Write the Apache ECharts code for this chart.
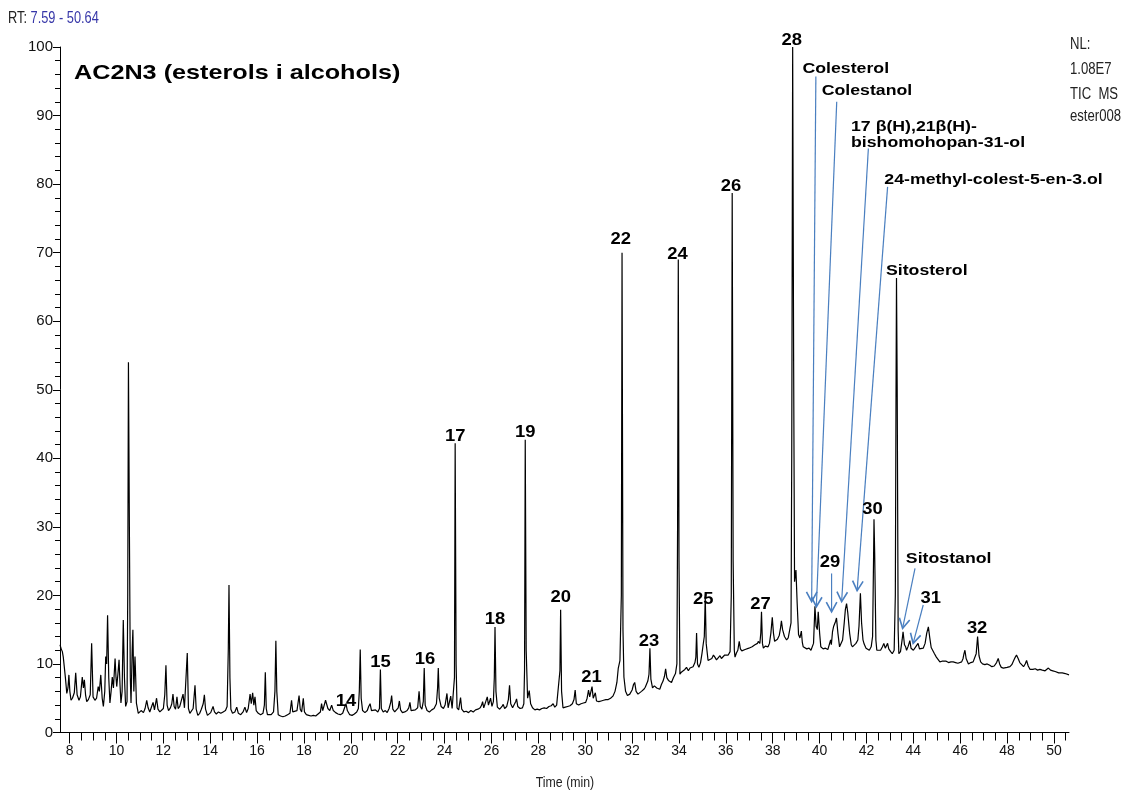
<!DOCTYPE html>
<html><head><meta charset="utf-8">
<script src="https://cdn.jsdelivr.net/npm/echarts@6/dist/echarts.min.js"></script>
<style>html,body{margin:0;padding:0;background:#fff}#c{width:1124px;height:792px}</style>
</head><body><div id="c"></div>
<script>
// ---- axis ranges and tick labels ----
const rtRange = [7.59, 50.64];
const xTickLabels = [8,10,12,14,16,18,20,22,24,26,28,30,32,34,36,38,40,42,44,46,48,50];
const yTickLabels = [0,10,20,30,40,50,60,70,80,90,100];

// ---- TIC trace (retention time [min], relative abundance [%]) ----
const trace08to11 = [[7.59,12.8],[7.64,12.2],[7.69,11.8],[7.73,11.0],[7.77,11.1],[7.82,8.0],[7.88,5.7],[7.93,6.5],[7.97,8.4],[8.01,6.0],[8.06,4.7],[8.12,5.0],[8.2,5.8],[8.26,8.7],[8.32,5.5],[8.4,4.7],[8.46,5.2],[8.54,8.1],[8.59,6.5],[8.63,7.7],[8.68,5.5],[8.73,4.5],[8.8,4.8],[8.88,5.5],[8.94,13.0],[9.0,5.2],[9.08,4.7],[9.15,5.0],[9.22,6.7],[9.27,6.0],[9.33,8.4],[9.39,5.0],[9.44,3.8],[9.5,6.0],[9.54,11.1],[9.58,10.0],[9.62,17.1],[9.67,8.0],[9.72,4.3],[9.77,6.0],[9.82,8.1],[9.87,6.5],[9.94,10.8],[9.98,8.0],[10.01,6.7],[10.06,8.5],[10.11,10.6],[10.15,7.0],[10.19,4.3],[10.24,6.0],[10.29,16.4],[10.34,8.0],[10.39,3.8],[10.45,4.5],[10.48,20],[10.51,54.0],[10.55,30],[10.59,8.0],[10.62,4.3],[10.67,12.0],[10.70,15.0],[10.74,6.0],[10.79,11.1],[10.82,8.0],[10.85,4.3],[10.93,2.8],[11.0,3.0]];
const trace11to19 = [[11.05,3.2],[11.15,2.9],[11.22,3.5],[11.29,4.7],[11.35,3.6],[11.42,3.0],[11.5,3.8],[11.56,4.4],[11.62,3.3],[11.71,5.0],[11.77,3.4],[11.85,3.0],[11.92,3.2],[12.0,3.5],[12.06,5.5],[12.11,9.8],[12.16,4.0],[12.22,3.2],[12.3,3.6],[12.36,4.2],[12.41,5.6],[12.46,3.8],[12.52,3.4],[12.58,5.2],[12.63,3.5],[12.7,3.8],[12.78,4.0],[12.84,5.6],[12.9,3.6],[12.96,3.8],[13.02,11.6],[13.07,3.5],[13.13,2.8],[13.2,3.0],[13.27,3.5],[13.35,6.9],[13.4,3.4],[13.47,2.5],[13.55,2.8],[13.62,3.4],[13.7,4.2],[13.75,5.5],[13.8,3.4],[13.88,2.5],[13.95,2.6],[14.02,2.9],[14.08,3.0],[14.12,3.8],[14.18,3.0],[14.26,2.7],[14.35,3.0],[14.45,2.8],[14.55,3.0],[14.65,3.2],[14.72,3.8],[14.77,12],[14.8,21.5],[14.84,8],[14.88,3.4],[14.95,2.8],[15.05,3.0],[15.13,3.7],[15.2,2.8],[15.3,2.6],[15.4,3.0],[15.48,3.7],[15.55,2.9],[15.62,3.5],[15.7,5.6],[15.75,4.2],[15.81,5.8],[15.86,4.0],[15.91,5.2],[15.96,3.2],[16.05,2.8],[16.15,2.6],[16.25,2.8],[16.31,4.0],[16.35,8.8],[16.39,3.5],[16.44,2.6],[16.52,2.4],[16.6,2.6],[16.7,3.0],[16.76,6.0],[16.8,13.4],[16.84,6.0],[16.9,2.6],[17.0,2.4],[17.1,2.3],[17.2,2.4],[17.3,2.6],[17.4,2.8],[17.47,4.7],[17.52,3.0],[17.6,2.8],[17.7,3.2],[17.79,5.4],[17.84,3.4],[17.9,3.0],[17.97,5.0],[18.02,3.0],[18.1,2.6],[18.2,2.5],[18.3,2.4],[18.4,2.5],[18.5,2.4],[18.6,2.7],[18.7,3.0],[18.75,4.2],[18.8,3.2],[18.87,3.0],[18.92,4.7],[18.97,4.9],[19.02,3.5],[19.1,3.2],[19.18,4.0],[19.25,3.2],[19.35,2.9],[19.45,2.7]];
const trace19to32 = [[19.55,2.6],[19.65,2.8],[19.72,3.5],[19.79,4.2],[19.85,3.2],[19.95,2.6],[20.05,2.5],[20.15,2.7],[20.25,3.0],[20.32,3.5],[20.36,6],[20.4,12.1],[20.44,5],[20.5,3.2],[20.6,2.9],[20.7,3.2],[20.76,3.8],[20.82,4.2],[20.88,3.2],[20.95,3.0],[21.05,3.3],[21.15,3.0],[21.22,3.5],[21.26,9.2],[21.3,3.5],[21.38,3.0],[21.47,3.2],[21.55,2.9],[21.63,3.5],[21.7,4.4],[21.74,5.4],[21.79,3.4],[21.87,3.0],[21.95,3.2],[22.02,3.6],[22.07,4.6],[22.12,3.3],[22.2,2.9],[22.3,3.0],[22.4,3.2],[22.47,3.6],[22.52,4.4],[22.57,3.2],[22.65,3.0],[22.75,3.3],[22.85,3.6],[22.91,6.0],[22.96,3.8],[23.03,3.4],[23.09,4.5],[23.13,9.4],[23.17,4.0],[23.25,3.2],[23.35,3.0],[23.45,3.3],[23.55,3.5],[23.65,4.2],[23.7,6.5],[23.73,9.4],[23.77,5.0],[23.85,3.8],[23.95,3.5],[24.02,4.0],[24.1,5.7],[24.15,3.6],[24.22,3.8],[24.26,5.3],[24.32,3.5],[24.38,3.5],[24.42,8],[24.45,42.2],[24.49,10],[24.53,3.6],[24.6,3.3],[24.68,5.1],[24.73,3.4],[24.82,3.0],[24.92,3.1],[25.02,2.9],[25.12,3.2],[25.22,3.0],[25.32,3.3],[25.42,3.4],[25.52,3.6],[25.58,4.0],[25.62,4.5],[25.67,3.6],[25.74,3.8],[25.82,5.2],[25.87,4.0],[25.92,4.2],[25.96,5.0],[26.02,3.8],[26.08,4.5],[26.12,8],[26.15,15.4],[26.19,6],[26.25,3.7],[26.35,3.4],[26.45,3.8],[26.5,4.1],[26.56,3.5],[26.65,3.8],[26.72,4.8],[26.77,6.9],[26.82,4.2],[26.9,3.6],[26.98,3.7],[27.03,4.5],[27.07,4.9],[27.12,3.8],[27.22,3.5],[27.32,3.6],[27.38,4.2],[27.41,9],[27.44,42.7],[27.48,12],[27.54,5.0],[27.61,6.1],[27.67,4.2],[27.75,3.6],[27.85,3.3],[27.95,3.4],[28.05,3.3],[28.15,3.5],[28.25,3.6],[28.35,3.5],[28.45,3.8],[28.55,3.9],[28.63,4.2],[28.7,3.7],[28.78,4.0],[28.86,4.2],[28.92,9],[28.95,17.9],[28.99,6],[29.05,3.6],[29.15,3.7],[29.25,3.8],[29.35,3.9],[29.45,4.2],[29.52,4.8],[29.57,6.2],[29.62,4.2],[29.72,4.0],[29.82,4.2],[29.92,4.3],[30.02,4.4],[30.08,5.0],[30.14,6.2],[30.19,5.2],[30.24,5.0],[30.29,6.7],[30.34,5.0],[30.39,5.2],[30.43,5.8],[30.48,4.6],[30.58,4.5],[30.68,4.6],[30.78,4.7],[30.88,4.8],[30.98,4.8],[31.08,5.0],[31.18,5.3],[31.27,6.0],[31.35,7.3],[31.41,9.4],[31.48,10.5],[31.54,20],[31.57,70.0],[31.61,15],[31.65,8.1],[31.72,6.0]];
const trace32to39 = [[31.8,5.4],[31.9,5.6],[32.0,6.2],[32.06,7.0],[32.11,7.3],[32.17,6.0],[32.25,5.6],[32.33,5.5],[32.4,6.0],[32.5,6.3],[32.56,6.6],[32.61,6.8],[32.67,7.5],[32.72,8.5],[32.76,12.3],[32.8,7.8],[32.87,6.5],[32.95,6.8],[33.05,6.5],[33.12,6.4],[33.18,6.3],[33.25,7.0],[33.32,7.5],[33.38,8.2],[33.43,9.3],[33.48,8.0],[33.55,7.6],[33.62,7.8],[33.68,7.3],[33.76,8.0],[33.85,8.6],[33.91,10],[33.94,30],[33.97,69.0],[34.0,25],[34.04,8.5],[34.1,8.8],[34.18,9.0],[34.25,9.2],[34.32,9.5],[34.4,9.0],[34.47,9.4],[34.53,9.3],[34.6,9.6],[34.68,10.2],[34.72,11],[34.75,14.5],[34.79,10.0],[34.85,9.5],[34.92,10.2],[34.98,11.5],[35.03,12.8],[35.08,14],[35.12,19.8],[35.16,13],[35.24,10.5],[35.32,10.6],[35.4,10.8],[35.47,11.3],[35.53,11.0],[35.6,10.6],[35.68,10.8],[35.75,11.2],[35.81,10.8],[35.88,11.0],[35.95,11.3],[36.02,11.2],[36.1,11.3],[36.18,11.8],[36.23,20],[36.27,78.7],[36.31,25],[36.36,12],[36.39,11.0],[36.45,11.6],[36.51,12.0],[36.57,13.3],[36.62,12.2],[36.68,11.9],[36.74,11.8],[36.82,12.1],[36.9,12.0],[36.98,12.3],[37.05,12.2],[37.12,12.5],[37.17,12.3],[37.24,12.8],[37.3,12.6],[37.35,13.0],[37.38,13.3],[37.45,13.0],[37.49,14.5],[37.52,17.6],[37.56,13.0],[37.6,12.3],[37.68,12.6],[37.74,12.4],[37.8,12.5],[37.86,13.0],[37.92,14.5],[37.98,16.8],[38.03,14.5],[38.08,13.3],[38.12,13.3],[38.2,13.6],[38.28,14.2],[38.33,15.2],[38.37,16.3],[38.42,15.0],[38.5,14.0],[38.59,13.5],[38.66,13.8],[38.73,13.8],[38.78,16],[38.81,40],[38.85,100],[38.89,55]];
const trace39to51 = [[38.93,22],[38.99,23.7],[39.04,19],[39.1,14.3],[39.16,13.8],[39.22,14.8],[39.26,13.2],[39.3,12.5],[39.36,12.6],[39.45,12.2],[39.55,12.3],[39.63,12.0],[39.7,12.1],[39.74,13],[39.8,18.4],[39.85,15.5],[39.9,15.0],[39.94,17.6],[40.0,14.5],[40.05,12.5],[40.15,12.2],[40.25,12.3],[40.35,12.1],[40.4,12.3],[40.47,13.5],[40.5,12.8],[40.55,14.7],[40.6,15.5],[40.68,16.2],[40.72,16.7],[40.78,14.5],[40.85,12.5],[40.92,12.4],[40.98,13.5],[41.05,16.0],[41.1,18.0],[41.15,18.8],[41.2,17.5],[41.28,14.5],[41.35,12.8],[41.4,12.5],[41.48,12.6],[41.55,13.0],[41.63,13.5],[41.68,15.5],[41.74,20.3],[41.79,16],[41.85,13.5],[41.9,12.9],[41.98,12.3],[42.05,12.1],[42.12,12.0],[42.2,12.5],[42.26,14],[42.3,25],[42.32,31.1],[42.35,26],[42.4,13.5],[42.44,12.0],[42.52,12.2],[42.6,12.0],[42.68,12.5],[42.74,13.0],[42.8,12.3],[42.85,12.5],[42.9,13.0],[42.95,12.2],[43.03,11.8],[43.1,11.5],[43.18,12.0],[43.23,20],[43.26,50],[43.28,66.3],[43.31,50],[43.35,15],[43.38,11.5],[43.45,11.8],[43.52,13.5],[43.56,14.7],[43.62,12.8],[43.67,12.5],[43.71,12.0],[43.78,12.6],[43.85,13.4],[43.9,12.3],[43.95,12.2],[44.0,12.0],[44.06,12.2],[44.12,12.6],[44.2,13.0],[44.26,12.2],[44.34,12.0],[44.42,12.3],[44.5,13.0],[44.57,14.5],[44.64,15.4],[44.7,13.8],[44.76,12.4],[44.84,12.2],[44.9,11.5],[44.98,11.0],[45.05,10.8],[45.13,10.3],[45.22,10.4],[45.3,10.3],[45.4,10.4],[45.5,10.2],[45.6,10.3],[45.7,10.3],[45.8,10.2],[45.9,10.1],[45.98,10.3],[46.06,10.3],[46.12,10.8],[46.16,11.5],[46.2,12.0],[46.25,10.8],[46.35,10.0],[46.45,10.2],[46.55,10.3],[46.62,10.4],[46.68,11.5],[46.74,14.0],[46.8,11.2],[46.87,10.3],[46.95,10.0],[47.05,9.9],[47.15,10.0],[47.26,9.8],[47.35,9.6],[47.45,9.7],[47.55,10.2],[47.62,10.8],[47.68,10.0],[47.75,9.5],[47.84,9.4],[47.92,9.6],[48.0,9.5],[48.12,9.6],[48.2,9.9],[48.28,10.5],[48.35,11.0],[48.4,11.3],[48.47,10.8],[48.54,10.2],[48.6,10.3],[48.7,9.6],[48.77,10.0],[48.83,10.5],[48.9,9.7],[48.98,9.2],[49.1,9.2],[49.2,9.3],[49.3,9.1],[49.4,9.2],[49.5,9.1],[49.55,9.2],[49.62,9.0],[49.7,9.2],[49.76,9.4],[49.85,9.1],[49.95,9.0],[50.05,8.9],[50.12,8.9],[50.2,8.7],[50.28,8.9],[50.35,8.7],[50.4,8.9],[50.48,8.6],[50.56,8.5],[50.64,8.4]];

// ---- annotations: [text, time, abundance] ----
const peakLabels = [['14',19.79,4.5],['15',21.26,10.2],['16',23.16,10.6],['17',24.45,43.2],['18',26.15,16.4],['19',27.44,43.7],['20',28.95,19.7],['21',30.27,8.0],['22',31.51,71.9],['23',32.72,13.3],['24',33.94,69.7],['25',35.03,19.4],['26',36.22,79.6],['27',37.48,18.6],['28',38.81,100.9],['29',40.44,24.8],['30',42.26,32.5],['31',44.74,19.6],['32',46.72,15.2]];
const compoundLabels = [['Colesterol',39.27,96.8],['Colestanol',40.09,93.6],['17 \u03b2(H),21\u03b2(H)-',41.34,88.3],['bishomohopan-31-ol',41.34,86.0],['24-methyl-colest-5-en-3.ol',42.76,80.6],['Sitosterol',42.83,67.4],['Sitostanol',43.68,25.4]];
// arrows: [fromTime, fromAbund, toTime, toAbund]
const arrowLines = [[39.84,95.7,39.66,19.1],[40.73,92.0,39.86,18.35],[42.08,85.2,40.94,19.1],[42.90,79.6,41.60,20.7],[40.51,23.2,40.51,17.6],[44.07,23.95,43.54,15.2],[44.42,18.6,43.99,13.0]];

const trace = [].concat(trace08to11, trace11to19, trace19to32, trace32to39, trace39to51);
const xMinorTicks = [];
for (let t = 8; t <= 50.5; t += 0.5) xMinorTicks.push(t);

const SANS = "'Liberation Sans',Arial,sans-serif";

const chart = echarts.init(document.getElementById('c'), null, {renderer: 'canvas'});
chart.setOption({
  animation: false,
  backgroundColor: '#fff',
  grid: {left: 60, right: 55, top: 47, bottom: 59.5, containLabel: false},
  xAxis: [{
    type: 'value', min: rtRange[0], max: rtRange[1],
    axisLine: {lineStyle: {color: '#000', width: 1}},
    axisTick: {customValues: xTickLabels, length: 11, lineStyle: {color: '#000'}},
    axisLabel: {customValues: xTickLabels, margin: 12, color: '#111', fontSize: 14, fontFamily: SANS},
    splitLine: {show: false}
  }, {
    type: 'value', min: rtRange[0], max: rtRange[1], position: 'bottom',
    axisLine: {show: false},
    axisTick: {customValues: xMinorTicks, length: 8, lineStyle: {color: '#000'}},
    axisLabel: {show: false},
    splitLine: {show: false}
  }],
  yAxis: {
    type: 'value', min: yTickLabels[0], max: yTickLabels[yTickLabels.length - 1], interval: 10,
    axisLine: {show: true, lineStyle: {color: '#000', width: 1}},
    axisTick: {show: true, length: 7, lineStyle: {color: '#000'}},
    minorTick: {show: true, splitNumber: 5, length: 5, lineStyle: {color: '#000'}},
    axisLabel: {margin: 7, color: '#111', fontSize: 15, fontFamily: SANS},
    splitLine: {show: false}
  },
  graphic: [
    {type: 'text', x: 8, y: 19, scaleX: 0.8, style: {rich: {a: {fill: '#222', fontSize: 16, fontFamily: SANS}, b: {fill: '#3636a8', fontSize: 16, fontFamily: SANS}}, text: '{a|RT: }{b|7.59 - 50.64}', verticalAlign: 'middle'}},
    {type: 'text', x: 74, y: 73, scaleX: 1.2, style: {text: 'AC2N3 (esterols i alcohols)', font: 'bold 21px ' + SANS, fill: '#000', verticalAlign: 'middle'}},
    {type: 'text', x: 1070, y: 45, scaleX: 0.82, style: {text: 'NL:', font: '16px ' + SANS, fill: '#222', verticalAlign: 'middle'}},
    {type: 'text', x: 1070, y: 70, scaleX: 0.82, style: {text: '1.08E7', font: '16px ' + SANS, fill: '#222', verticalAlign: 'middle'}},
    {type: 'text', x: 1070, y: 95, scaleX: 0.82, style: {text: 'TIC  MS', font: '16px ' + SANS, fill: '#222', verticalAlign: 'middle'}},
    {type: 'text', x: 1070, y: 117, scaleX: 0.82, style: {text: 'ester008', font: '16px ' + SANS, fill: '#222', verticalAlign: 'middle'}},
    {type: 'text', x: 565, y: 783, scaleX: 0.88, style: {text: 'Time (min)', font: '14px ' + SANS, fill: '#222', align: 'center', verticalAlign: 'middle'}}
  ],
  series: [{
    type: 'line', xAxisIndex: 0, data: trace, showSymbol: false, symbol: 'none', sampling: null,
    lineStyle: {color: '#000', width: 1.2}, silent: true, z: 3
  }, {
    type: 'custom', coordinateSystem: 'cartesian2d', xAxisIndex: 0, clip: false, silent: true, z: 4,
    data: arrowLines, encode: {x: [0, 2], y: [1, 3]},
    renderItem: function (params, api) {
      const p0 = api.coord([api.value(0), api.value(1)]);
      const p1 = api.coord([api.value(2), api.value(3)]);
      const ang = Math.atan2(p1[1] - p0[1], p1[0] - p0[0]);
      const L = 11, a = 0.5;
      const h1 = [p1[0] - L * Math.cos(ang - a), p1[1] - L * Math.sin(ang - a)];
      const h2 = [p1[0] - L * Math.cos(ang + a), p1[1] - L * Math.sin(ang + a)];
      return {type: 'group', children: [
        {type: 'line', shape: {x1: p0[0], y1: p0[1], x2: p1[0], y2: p1[1]}, style: {stroke: '#4a7fc0', lineWidth: 1.2}},
        {type: 'polyline', shape: {points: [h1, p1, h2]}, style: {stroke: '#4a7fc0', lineWidth: 1.6, fill: null}}
      ]};
    }
  }, {
    type: 'custom', coordinateSystem: 'cartesian2d', xAxisIndex: 0, clip: false, silent: true, z: 5,
    data: peakLabels.map(d => [d[1], d[2]]), encode: {x: 0, y: 1},
    renderItem: function (params, api) {
      const p = api.coord([api.value(0), api.value(1)]);
      return {type: 'text', x: p[0], y: p[1], scaleX: 1.15,
        style: {text: peakLabels[params.dataIndex][0], font: 'bold 16px ' + SANS, fill: '#000', align: 'center', verticalAlign: 'middle'}};
    }
  }, {
    type: 'custom', coordinateSystem: 'cartesian2d', xAxisIndex: 0, clip: false, silent: true, z: 5,
    data: compoundLabels.map(d => [d[1], d[2]]), encode: {x: 0, y: 1},
    renderItem: function (params, api) {
      const p = api.coord([api.value(0), api.value(1)]);
      return {type: 'text', x: p[0], y: p[1], scaleX: 1.18,
        style: {text: compoundLabels[params.dataIndex][0], font: 'bold 15px ' + SANS, fill: '#000', align: 'left', verticalAlign: 'middle'}};
    }
  }]
});
</script>
</body></html>
